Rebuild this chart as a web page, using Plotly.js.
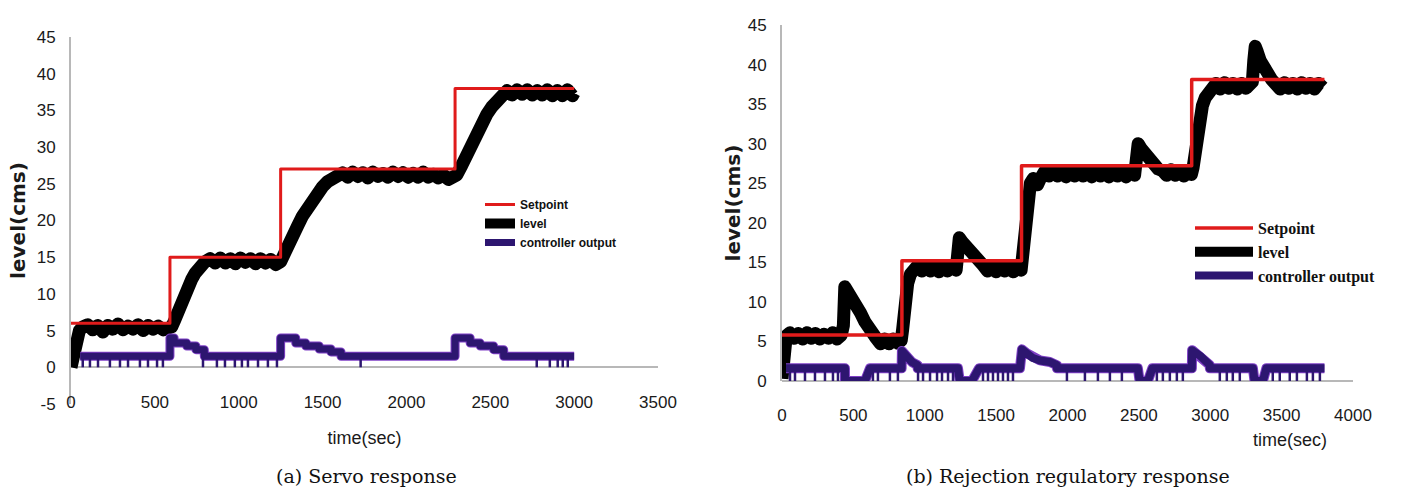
<!DOCTYPE html>
<html>
<head>
<meta charset="utf-8">
<script src="https://cdn.plot.ly/plotly-3.0.1.min.js"></script>
<style>
html,body{margin:0;padding:0;background:#fff;}
#chart{width:1410px;height:490px;}
#chart .scatterlayer path.js-line{stroke-linejoin:round;}
</style>
</head>
<body>
<div id="chart"></div>
<script>
// ---------- (a) Servo response ----------
const servoSetT = [0, 590, 590, 1250, 1250, 2290, 2290, 3000];
const servoSetV = [6, 6, 15, 15, 27, 27, 38, 38];

const servoLevelT = [0, 10, 20, 35, 50, 70,
  100, 130, 160, 190, 220, 250, 280, 310, 340, 370, 400, 430, 460, 490, 520, 550, 580,
  600, 620, 640, 660, 680, 700, 720, 740, 760, 780, 800,
  830, 860, 890, 920, 950, 980, 1010, 1040, 1070, 1100, 1130, 1160, 1190, 1220, 1250,
  1270, 1290, 1320, 1350, 1380, 1410, 1440, 1470, 1500, 1530, 1560, 1590,
  1620, 1650, 1680, 1710, 1740, 1770, 1800, 1830, 1860, 1890, 1920, 1950, 1980, 2010, 2040, 2070, 2100, 2130, 2160, 2190, 2220, 2250, 2280,
  2300, 2330, 2360, 2390, 2420, 2450, 2480, 2510, 2540, 2570,
  2600, 2630, 2660, 2690, 2720, 2750, 2780, 2810, 2840, 2870, 2900, 2930, 2960, 2990, 3000];
const servoLevelV = [0, 1.5, 3.0, 4.2, 5.0, 5.5,
  5.8, 5.1, 5.7, 4.8, 5.7, 5.2, 5.9, 5.1, 5.6, 5.2, 5.8, 5.0, 5.7, 5.2, 5.6, 5.1, 5.5,
  5.5, 6.5, 7.8, 9.0, 10.2, 11.1, 12.0, 12.8, 13.5, 14.0, 14.4,
  14.8, 14.2, 14.9, 14.2, 14.8, 14.1, 14.9, 14.3, 14.8, 14.1, 14.8, 14.2, 14.7, 14.0, 14.4,
  15.2, 16.2, 17.8, 19.2, 20.6, 21.8, 22.9, 23.9, 24.6, 25.3, 25.8, 26.0,
  26.5, 25.9, 26.6, 26.0, 26.5, 25.8, 26.6, 26.0, 26.4, 25.9, 26.6, 26.0, 26.5, 25.9, 26.4, 25.9, 26.6, 25.9, 26.3, 25.8, 26.2, 25.6, 25.9,
  26.2, 27.5, 29.0, 30.6, 32.0, 33.3, 34.5, 35.5, 36.3, 36.9,
  37.7, 37.1, 37.8, 37.2, 37.8, 37.1, 37.7, 37.1, 37.8, 37.0, 37.7, 37.0, 37.8, 37.0, 37.4];

const servoCtrlT = [55, 590, 590, 615, 615, 690, 690, 745, 745, 795, 795, 1250,
  1250, 1340, 1340, 1400, 1400, 1480, 1480, 1550, 1550, 1610, 1610, 2290,
  2290, 2380, 2380, 2440, 2440, 2520, 2520, 2580, 2580, 3000];
const servoCtrlV = [1.5, 1.5, 4.0, 4.0, 3.3, 3.3, 2.9, 2.9, 2.4, 2.4, 1.5, 1.5,
  4.0, 4.0, 3.3, 3.3, 2.9, 2.9, 2.5, 2.5, 2.1, 2.1, 1.5, 1.5,
  4.0, 4.0, 3.3, 3.3, 2.9, 2.9, 2.4, 2.4, 1.5, 1.5];
const servoCtrlDropT = [70, 113, 161, 232, 292, 340, 411, 459, 513, 548, 787, 870, 918, 977, 1019,
  1055, 1115, 1174, 1228, 1727, 2777, 2855, 2902, 2932, 2962];

// ---------- (b) Rejection regulatory response ----------
const rejSetT = [0, 840, 840, 1678, 1678, 2870, 2870, 3800];
const rejSetV = [5.8, 5.8, 15.2, 15.2, 27.2, 27.2, 38.1, 38.1];

const rejLevelT = [0, 8, 16, 30,
  55, 85, 115, 145, 175, 205, 235, 265, 295, 325, 355, 385, 415,
  430, 440, 460, 490, 520, 550, 580, 610, 630,
  660, 690, 720, 750, 780, 810, 835,
  845, 855, 865, 880, 900, 920,
  950, 980, 1010, 1040, 1070, 1100, 1130, 1160, 1190, 1220,
  1232, 1242, 1262, 1290, 1320, 1350, 1380,
  1410, 1440, 1470, 1500, 1530, 1560, 1590, 1620, 1650, 1675,
  1685, 1695, 1705, 1720, 1740, 1760, 1790, 1810,
  1840, 1870, 1900, 1930, 1960, 1990, 2020, 2050, 2080, 2110, 2140, 2170, 2200, 2230, 2260, 2290, 2320, 2350, 2380, 2410, 2440, 2470,
  2485, 2495, 2515, 2545, 2575, 2605, 2635,
  2665, 2695, 2725, 2755, 2785, 2815, 2845, 2868,
  2880, 2895, 2910, 2925, 2945, 2965, 2990, 3010,
  3040, 3070, 3100, 3130, 3160, 3190, 3220, 3250, 3280, 3295,
  3305, 3315, 3330, 3350, 3375, 3400, 3430,
  3460, 3490, 3520, 3550, 3580, 3610, 3640, 3670, 3700, 3730, 3760, 3790];
const rejLevelV = [0.3, 3.0, 5.0, 5.7,
  6.1, 5.4, 6.0, 5.3, 6.1, 5.4, 6.0, 5.3, 5.9, 5.4, 6.1, 5.3, 5.8,
  7.0, 11.9, 11.4, 10.5, 9.6, 8.6, 7.5, 6.4, 5.6,
  5.4, 4.7, 5.3, 4.7, 5.3, 4.8, 5.1,
  6.5, 9.0, 10.8, 12.3, 13.5, 14.0,
  14.6, 13.9, 14.6, 13.9, 14.6, 13.8, 14.5, 13.9, 14.6, 14.0,
  16.0, 18.1, 17.6, 16.9, 16.2, 15.6, 15.0,
  14.6, 13.9, 14.5, 13.8, 14.6, 13.9, 14.5, 13.8, 14.4, 14.0,
  15.5, 18.5, 21.0, 23.5, 25.0, 25.6, 24.8, 25.6,
  26.5, 25.9, 26.6, 25.9, 26.5, 25.8, 26.6, 25.9, 26.4, 25.9, 26.6, 25.8, 26.5, 25.9, 26.4, 25.8, 26.5, 25.9, 26.4, 25.8, 26.5, 26.0,
  27.5, 30.0, 29.4, 28.6, 27.8, 27.2, 26.8,
  26.6, 26.0, 26.7, 26.0, 26.6, 25.9, 26.5, 26.1,
  27.0, 29.5, 31.5, 33.3, 34.8, 35.8, 36.5, 36.9,
  37.6, 36.9, 37.7, 37.0, 37.6, 36.9, 37.6, 37.0, 37.4, 37.8,
  40.5, 42.3, 41.6, 40.5, 39.6, 38.8, 38.1,
  37.5, 36.9, 37.7, 37.0, 37.6, 36.9, 37.7, 37.0, 37.6, 36.9, 37.6, 37.1];

const rejCtrlT = [28, 441, 441, 581, 616, 838, 840, 870, 870, 910, 950, 950, 1233, 1245, 1331, 1350, 1380,
  1667, 1681, 1716, 1758, 1807, 1877, 1926, 1926, 2493, 2505, 2563, 2594,
  2871, 2873, 2928, 2977, 2997, 2997, 3299, 3310, 3369, 3393, 3800];
const rejCtrlV = [1.6, 1.6, 0, 0, 1.6, 1.6, 3.8, 3.2, 2.9, 2.4, 2.0, 1.6, 1.6, 0, 0, 0.8, 1.6,
  1.6, 4.0, 3.5, 2.9, 2.6, 2.4, 2.0, 1.6, 1.6, 0, 0, 1.6,
  1.6, 3.9, 3.2, 2.4, 2.0, 1.6, 1.6, 0, 0, 1.6, 1.6];
const rejCtrlDropT = [56, 91, 161, 231, 301, 357, 392, 637, 672, 756, 812, 953, 988, 1037, 1086, 1121,
  1163, 1198, 1408, 1443, 1478, 1513, 1548, 1583, 1618, 1996, 2122, 2213, 2297, 2381, 2626, 2668,
  2717, 2766, 2808, 3067, 3116, 3158, 3207, 3438, 3487, 3557, 3607, 3677, 3719, 3768];

const seriesNames = ['Setpoint', 'level', 'controller output'];
const xTicksA = [0, 500, 1000, 1500, 2000, 2500, 3000, 3500];
const xTicksB = [0, 500, 1000, 1500, 2000, 2500, 3000, 3500, 4000];
const yTicksA = [-5, 0, 5, 10, 15, 20, 25, 30, 35, 40, 45];
const yTickTextA = ['-5', '0', '5', '10', '15', '20', '25', '30', '35', '40', '45'];
const captions = ['(a) Servo response', '(b) Rejection regulatory response'];

// ---------- styling ----------
const RED = '#e01b1b', BLACK = '#000000', PURPLE = '#2d1670', PURPLE_EDGE = '#7f3fc6';
const tickFont = {family: '"Liberation Sans", Arial, sans-serif', size: 17, color: '#1a1a1a'};
const yTitleFont = {family: '"DejaVu Sans", sans-serif', size: 20, color: '#1a1a1a', weight: 'bold'};
const xTitleFont = {family: '"Liberation Sans", Arial, sans-serif', size: 18, color: '#1a1a1a'};

function drops(ts, base) {
  const x = [], y = [];
  ts.forEach(t => { x.push(t, t, null); y.push(base, 0, null); });
  return {x, y};
}

function panel(xa, ya, leg, setT, setV, lvT, lvV, cT, cV, dT, base, w) {
  const d = drops(dT, base);
  return [
    {x: lvT, y: lvV, xaxis: xa, yaxis: ya, legend: leg, name: seriesNames[1], mode: 'lines',
     line: {color: BLACK, width: w.level}, legendrank: 2},
    {x: setT, y: setV, xaxis: xa, yaxis: ya, legend: leg, name: seriesNames[0], mode: 'lines',
     line: {color: RED, width: w.set}, legendrank: 1},
    {x: cT, y: cV, xaxis: xa, yaxis: ya, legend: leg, showlegend: false, mode: 'lines',
     line: {color: PURPLE_EDGE, width: w.ctrl + 2}, hoverinfo: 'skip'},
    {x: d.x, y: d.y, xaxis: xa, yaxis: ya, legend: leg, showlegend: false, mode: 'lines',
     line: {color: PURPLE, width: 2.5}, hoverinfo: 'skip'},
    {x: cT, y: cV, xaxis: xa, yaxis: ya, legend: leg, name: seriesNames[2], mode: 'lines',
     line: {color: PURPLE, width: w.ctrl}, legendrank: 3}
  ];
}

const data = [].concat(
  panel('x', 'y', 'legend', servoSetT, servoSetV, servoLevelT, servoLevelV, servoCtrlT, servoCtrlV, servoCtrlDropT, 1.5, {level: 13, set: 3, ctrl: 7}),
  panel('x2', 'y2', 'legend2', rejSetT, rejSetV, rejLevelT, rejLevelV, rejCtrlT, rejCtrlV, rejCtrlDropT, 1.6, {level: 13, set: 3.5, ctrl: 8})
);

const H = 490, W = 1410;
const py = px => (H - px) / H;
const pxX = px => px / W;

const yCommon = {
  showgrid: false, zeroline: true, zerolinecolor: '#b8b8b8', zerolinewidth: 2,
  showline: true, linecolor: '#b8b8b8', linewidth: 2,
  ticks: 'outside', ticklen: 10, tickcolor: 'rgba(0,0,0,0)', tickfont: tickFont,
  dtick: 5, fixedrange: true
};
const xCommon = {
  showgrid: false, zeroline: false, showline: false, anchor: 'free',
  ticks: '', tickfont: tickFont, fixedrange: true
};

const layout = {
  width: W, height: H, margin: {l: 0, r: 0, t: 0, b: 0},
  paper_bgcolor: '#fff', plot_bgcolor: 'rgba(0,0,0,0)', showlegend: true,
  xaxis: Object.assign({}, xCommon, {domain: [pxX(71), pxX(658)], range: [0, 3500], tickvals: xTicksA,
    position: py(390), title: {text: 'time(sec)', font: xTitleFont, standoff: 20}}),
  yaxis: Object.assign({}, yCommon, {domain: [py(404), py(37)], range: [-5, 45], anchor: 'x',
    tickmode: 'array', tickvals: yTicksA, ticktext: yTickTextA,
    title: {text: 'level(cms)', font: yTitleFont, standoff: 6}}),
  xaxis2: Object.assign({}, xCommon, {domain: [pxX(782), pxX(1353)], range: [0, 4000], tickvals: xTicksB,
    position: py(403)}),
  yaxis2: Object.assign({}, yCommon, {domain: [py(381), py(25)], range: [0, 45], anchor: 'x2',
    title: {text: 'level(cms)', font: yTitleFont, standoff: 2}}),
  legend: {x: pxX(480), y: py(190), xanchor: 'left', yanchor: 'top', bgcolor: 'rgba(0,0,0,0)',
    font: {family: '"Liberation Sans", Arial, sans-serif', size: 12, color: '#111', weight: 'bold'},
    tracegroupgap: 0, itemwidth: 30},
  legend2: {x: pxX(1190), y: py(211), xanchor: 'left', yanchor: 'top', bgcolor: 'rgba(0,0,0,0)',
    font: {family: '"Liberation Serif", serif', size: 16, color: '#111', weight: 'bold'},
    tracegroupgap: 0, itemwidth: 58},
  annotations: [
    {text: 'time(sec)', xref: 'paper', yref: 'paper', x: pxX(1290), y: py(440), xanchor: 'center', yanchor: 'middle',
     showarrow: false, font: xTitleFont},
    {text: captions[0], xref: 'paper', yref: 'paper', x: pxX(366), y: py(476), xanchor: 'center', yanchor: 'middle',
     showarrow: false, font: {family: '"DejaVu Serif", serif', size: 19, color: '#111'}},
    {text: captions[1], xref: 'paper', yref: 'paper', x: pxX(1068), y: py(476), xanchor: 'center', yanchor: 'middle',
     showarrow: false, font: {family: '"DejaVu Serif", serif', size: 19, color: '#111'}}
  ]
};

Plotly.newPlot('chart', data, layout, {displayModeBar: false, staticPlot: true});
</script>
</body>
</html>
